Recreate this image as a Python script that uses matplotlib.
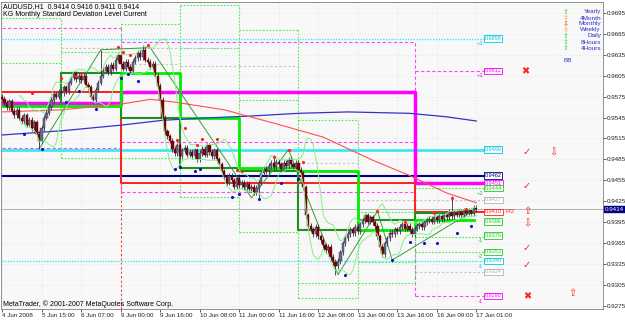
import numpy as np
import matplotlib
matplotlib.use('Agg')
import matplotlib.pyplot as plt
import matplotlib.transforms as mtransforms

plt.rcParams['font.family'] = ['Liberation Sans', 'DejaVu Sans']
plt.rcParams['font.size'] = 5

# AUDUSD H1 closes, in pips
closes = [9572, 9566, 9560, 9568, 9555, 9548, 9556, 9545, 9540, 9548, 9535, 9542, 9530,
          9538, 9522, 9512, 9530, 9545, 9552, 9560, 9570, 9578, 9575, 9582, 9580, 9588,
          9583, 9595, 9602, 9608, 9600, 9605, 9598, 9604, 9592, 9588, 9575, 9570, 9585,
          9595, 9605, 9612, 9618, 9610, 9620, 9615, 9628, 9634, 9622, 9615, 9625, 9618,
          9612, 9625, 9630, 9638, 9632, 9642, 9628, 9625, 9618, 9622, 9605, 9590, 9570,
          9545, 9525, 9518, 9512, 9500, 9494, 9505, 9490, 9498, 9502, 9492, 9496, 9490,
          9498, 9486, 9494, 9500, 9492, 9505, 9496, 9490, 9498, 9485, 9478, 9468, 9460,
          9452, 9462, 9455, 9446, 9458, 9448, 9452, 9445, 9450, 9442, 9446, 9438, 9444,
          9452, 9465, 9472, 9468, 9476, 9480, 9474, 9482, 9478, 9472, 9480, 9476, 9484,
          9478, 9474, 9480, 9470, 9465, 9445, 9405, 9390, 9385, 9378, 9388, 9375, 9370,
          9362, 9355, 9360, 9345, 9338, 9332, 9340, 9352, 9365, 9372, 9378, 9385, 9380,
          9388, 9382, 9392, 9398, 9405, 9396, 9402, 9395, 9390, 9375, 9360, 9350, 9365,
          9372, 9380, 9378, 9385, 9382, 9388, 9392, 9386, 9390, 9384, 9378, 9386, 9390,
          9392, 9388, 9395, 9398, 9400, 9396, 9402, 9398, 9404, 9400, 9406, 9402, 9410,
          9404, 9408, 9406, 9410, 9406, 9412, 9409, 9412, 9408, 9416, 9414]
first_open = 9575
high_spikes = {40: 9642, 57: 9649, 110: 9491, 182: 9432}
low_spikes = {15: 9500, 104: 9430, 135: 9320}

date_ticks = list(range(0, 193, 16))
date_labels = ['4 Jun 2008', '5 Jun 15:00', '6 Jun 07:00', '9 Jun 00:00', '9 Jun 16:00',
               '10 Jun 08:00', '11 Jun 00:00', '11 Jun 16:00', '12 Jun 08:00',
               '13 Jun 00:00', '13 Jun 16:00', '16 Jun 09:00', '17 Jun 01:00']

# daily levels
day_start = [0, 24, 48, 72, 96, 120, 144, 167, 191]
daily_level = [0.9561, 0.9561, 0.9609, 0.9544, 0.9473, 0.9468, 0.9384, 0.9398]
daily_next = [0.9561, 0.9609, 0.9544, 0.9473, 0.9468, 0.9384, 0.9398, 0.9409]
daily_bands = [[0.9687, 0.9623, 0.9500], [0.9639, 0.9487], [0.9679, 0.9487],
               [0.9706, 0.9645, 0.9431], [0.9670, 0.9570, 0.9381],
               [0.9541, 0.9308, 0.9287], [0.9410, 0.9338, 0.9308],
               [0.9444, 0.9374, 0.9353]]
grey_bands = [[], [0.9645], [0.9621, 0.9645], [0.9645, 0.9619], [0.9619], [0.9480], [0.9427],
              [0.9427, 0.9324]]

# weekly levels
week_start = [0, 48, 167]
week_center = [0.9566, 0.9581, 0.9451]
week_pivot = [0.9582, 0.9451, 0.9410]
week_bands = [[0.9673, 0.9501], [0.9653, 0.9510, 0.9439], [0.9612, 0.9290]]

cyan_levels = [0.9658, 0.9499, 0.9340]
navy_level = 0.9462
last_price = 0.9414

slow_ma_x = [0, 24, 48, 65, 80, 100, 120, 140, 165, 180, 192]
slow_ma_y = [0.9520, 0.9526, 0.9534, 0.9541, 0.9544, 0.9547, 0.9551, 0.9553, 0.9551, 0.9546, 0.9540]
red_ma_x = [0, 24, 48, 60, 70, 90, 110, 130, 150, 165, 180, 192]
red_ma_y = [0.9553, 0.9556, 0.9564, 0.9571, 0.9567, 0.9556, 0.9537, 0.9517, 0.9484, 0.9462, 0.9437, 0.9423]
zig_x = [15, 40, 60, 101, 116, 136, 152, 158, 192]
zig_y = [0.9500, 0.9642, 0.9645, 0.9430, 0.9499, 0.9320, 0.9411, 0.9341, 0.9414]

frac_hi_x = [12, 24, 30, 32, 47, 49, 52, 59, 71, 74, 79, 81, 87, 95, 97, 110, 116, 122, 152, 163, 175, 182, 188]
frac_hi_y = [0.9580, 0.9602, 0.9604, 0.9609, 0.9646, 0.9639, 0.9634, 0.9649, 0.9513, 0.9530, 0.9506,
             0.9514, 0.9514, 0.9470, 0.9468, 0.9489, 0.9499, 0.9481, 0.9411, 0.9396, 0.9408, 0.9430, 0.9414]
frac_lo_x = [9, 16, 26, 31, 38, 48, 51, 55, 70, 72, 78, 80, 93, 96, 104, 113, 120, 139, 158, 165, 171, 176, 184, 190]
frac_lo_y = [0.9521, 0.9500, 0.9567, 0.9583, 0.9557, 0.9602, 0.9607, 0.9597, 0.9471, 0.9474, 0.9468,
             0.9471, 0.9431, 0.9435, 0.9428, 0.9451, 0.9457, 0.9320, 0.9341, 0.9367, 0.9365, 0.9365,
             0.9380, 0.9390]

box_values = [0.9658, 0.9612, 0.9499, 0.9462, 0.9451, 0.9444, 0.9427, 0.9410, 0.9396, 0.9376,
              0.9353, 0.9340, 0.9324, 0.9290]
box_colors = ['#00c8d8', '#ff00ff', '#00c8d8', '#000080', '#ff00ff', '#22cc22', '#b0b0b0', '#ff2020',
              '#22cc22', '#22cc22', '#22cc22', '#00c8d8', '#b0b0b0', '#ff00ff']
box_tags = ['+1', '+1', '', '', '', '+2', '', '', '', '-1', '-2', '-1', '', '-1']

legend_names = ['Yearly', '4Month', 'Monthly', 'Weekly', 'Daily', '8Hours', '4Hours']
legend_marks = ['⇧', '⇳', '⇩', '⇳', '⇧', '⇧', '⇧']
legend_cols = ['#33cc33', '#ff9933', '#ff2020', '#ff9933', '#33cc33', '#33cc33', '#33cc33']

W, H = 625, 321


def px(x, y):
    return x / W, 1 - y / H


fig = plt.figure(figsize=(W / 100, H / 100), dpi=100)
fig.patch.set_facecolor('white')
ax = fig.add_axes([1 / W, 1 - 309 / H, 602 / W, 307 / H])
ax.set_facecolor('#f8f8f8')
ax.set_xlim(-0.4, 243.3)
ax.set_ylim(0.92710, 0.97103)
box_x = 195.5

# cyan / navy long lines
ax.plot([0, box_x], [cyan_levels[1]] * 2, color='#3ee8f5', lw=2, zorder=2)
for v in (cyan_levels[0], cyan_levels[2]):
    ax.plot([0, box_x], [v, v], color='#3ee8f5', lw=1, ls=(0, (1, 1)), zorder=1)
ax.plot([0, box_x], [navy_level] * 2, color='#000080', lw=1.5, zorder=2)

# weekly
wx = week_start + [box_x]
ax.step(wx, week_center + [week_center[-1]], where='post', color='#ff00ff', lw=2.5, zorder=2)
ax.step(wx, week_pivot + [week_pivot[-1]], where='post', color='#ff2020', lw=1.4, zorder=2)
for k, levels in enumerate(week_bands):
    for v in levels:
        ax.plot([wx[k], wx[k + 1]], [v, v], color='#ff44ff', lw=0.8, ls=(0, (3, 2)), zorder=1)
for k in (1, 2):
    lv = week_bands[k - 1] + week_bands[k]
    ax.plot([wx[k]] * 2, [min(lv), max(lv)], color='#ff44ff', lw=0.8, ls=(0, (3, 2)), zorder=1)
ax.plot([48, 48], [0.9271, week_pivot[0]], color='#ff2020', lw=0.8, ls=(0, (2, 2)), zorder=1)

# daily
dx = day_start
ax.step(dx, daily_next + [daily_next[-1]], where='post', color='#1f8f1f', lw=1.5, zorder=2)
ax.step(dx, daily_level + [daily_level[-1]], where='post', color='#00ee00', lw=2, zorder=2)
for k, levels in enumerate(daily_bands):
    x1 = box_x if k == len(daily_bands) - 1 else dx[k + 1]
    for v in levels:
        ax.plot([dx[k], x1], [v, v], color='#44ee44', lw=0.8, ls=(0, (1.5, 1.5)), zorder=1)
    for v in grey_bands[k]:
        ax.plot([dx[k], x1], [v, v], color='#c4c4c4', lw=0.8, ls=(0, (2, 2)), zorder=1)
for k in range(1, len(daily_bands)):
    lv = daily_bands[k - 1] + daily_bands[k]
    ax.plot([dx[k]] * 2, [min(lv), max(lv)], color='#44ee44', lw=0.8, ls=(0, (1.5, 1.5)), zorder=1)

# moving averages
ax.plot(slow_ma_x, slow_ma_y, color='#3333cc', lw=0.9, zorder=2)
ax.plot(red_ma_x, red_ma_y, color='#ff5050', lw=0.8, zorder=2)
ax.plot(zig_x, zig_y, color='#3a9a3a', lw=0.7, zorder=2)

# candles
c = np.array(closes) / 10000
o = np.r_[first_open / 10000, c[:-1]]
hi = np.maximum(o, c) + 0.0004
lo = np.minimum(o, c) - 0.0004
for i, v in high_spikes.items():
    hi[i] = v / 10000
for i, v in low_spikes.items():
    lo[i] = v / 10000
idx = np.arange(len(c))
up = c >= o
ax.vlines(idx, lo, hi, color='#303040', lw=0.6, zorder=3)
ax.bar(idx, np.maximum(np.abs(c - o), 0.00008), bottom=np.minimum(o, c), width=0.9,
       color=np.where(up, '#6a6a84', '#800000'), edgecolor=np.where(up, '#2a2a44', '#600000'),
       linewidth=0.3, zorder=3)

# bollinger bands
n = 8
s = np.convolve(c, np.ones(n) / n, mode='valid')
sd = np.array([c[i:i + n].std() for i in range(len(c) - n + 1)])
ax.plot(idx[n - 1:], s + 2 * sd, color='#88ee88', lw=0.7, zorder=4)
ax.plot(idx[n - 1:], s - 2 * sd, color='#88ee88', lw=0.7, zorder=4)

# fractals
ax.scatter(frac_hi_x, frac_hi_y, s=5, color='#ff2020', zorder=5, lw=0)
ax.scatter(frac_lo_x, frac_lo_y, s=5, color='#1010c0', zorder=5, lw=0)

ax.axhline(last_price, color='#a8a8a8', lw=0.6, zorder=1)

# level boxes
for v, col, tag in zip(box_values, box_colors, box_tags):
    ax.text(box_x, v, f'{v:.4f}', fontsize=4.0, color=col, ha='left', va='center', zorder=6,
            bbox=dict(boxstyle='square,pad=0.12', fc='white', ec=col, lw=0.6))
    if tag:
        ax.text(box_x - 0.6, v - 0.0004, tag, fontsize=4.3, color=col, ha='right', va='top')
ax.text(box_x + 8.2, box_values[7], 'P/2', fontsize=4.3, color='#ff2020', ha='left', va='center')

# axes styling
ax.yaxis.tick_right()
yt = np.arange(0.9275, 0.96951, 0.003)
ax.set_yticks(yt)
ax.set_yticklabels([f'{v:.4f}' for v in yt])
ax.set_xticks(date_ticks)
ax.set_xticklabels(date_labels, ha='left')
ax.tick_params(axis='both', length=2, width=0.5, pad=0.8, labelsize=4.5, colors='#202020')
ax.grid(True, color='#d4d4d4', ls=(0, (1, 3)), lw=0.5, zorder=0)
for sp in ax.spines.values():
    sp.set_color('#808080')
    sp.set_linewidth(0.6)

tr = mtransforms.blended_transform_factory(ax.transAxes, ax.transData)
ax.text(1.003, last_price, f'{last_price:.4f}', transform=tr, fontsize=4.5, color='white', ha='left',
        va='center', bbox=dict(boxstyle='square,pad=0.1', fc='#000080', ec='#000080'))

# header / footer
fig.text(*px(3, 7), 'AUDUSD,H1  0.9414 0.9416 0.9411 0.9414', fontsize=5, va='center')
fig.text(*px(3, 14), 'KG Monthly Standard Deviation Level Current', fontsize=5, va='center')
fig.text(*px(3, 304), 'MetaTrader, © 2001-2007 MetaQuotes Software Corp.', fontsize=5, va='center')

# legend
leg_y = [12, 18, 24, 30, 36, 42, 48]
for name, mk, col, y in zip(legend_names, legend_marks, legend_cols, leg_y):
    fig.text(*px(566, y), mk, fontsize=5.2, color=col, ha='center', va='center', family=['DejaVu Sans'])
    fig.text(*px(601, y), name, fontsize=4.6, color='#3030c8', ha='right', va='center')
fig.text(*px(568, 61), 'BB', fontsize=4.6, color='#3030c8', ha='center', va='center')

# signal marks
signals = [(525, 71, '✖'), (527, 152, '✓'), (553, 152, '⇩'), (527, 186, '✓'), (527, 211, '⇧'),
           (527, 223, '⇩'), (527, 248, '✓'), (527, 265, '✓'), (527, 296, '✖'), (572, 293, '⇧')]
for x, y, mk in signals:
    fig.text(*px(x, y), mk, fontsize=7, color='#ff2020', ha='center', va='center',
             family=['DejaVu Sans'])

fig.savefig('out.png', dpi=100, facecolor=fig.get_facecolor())
